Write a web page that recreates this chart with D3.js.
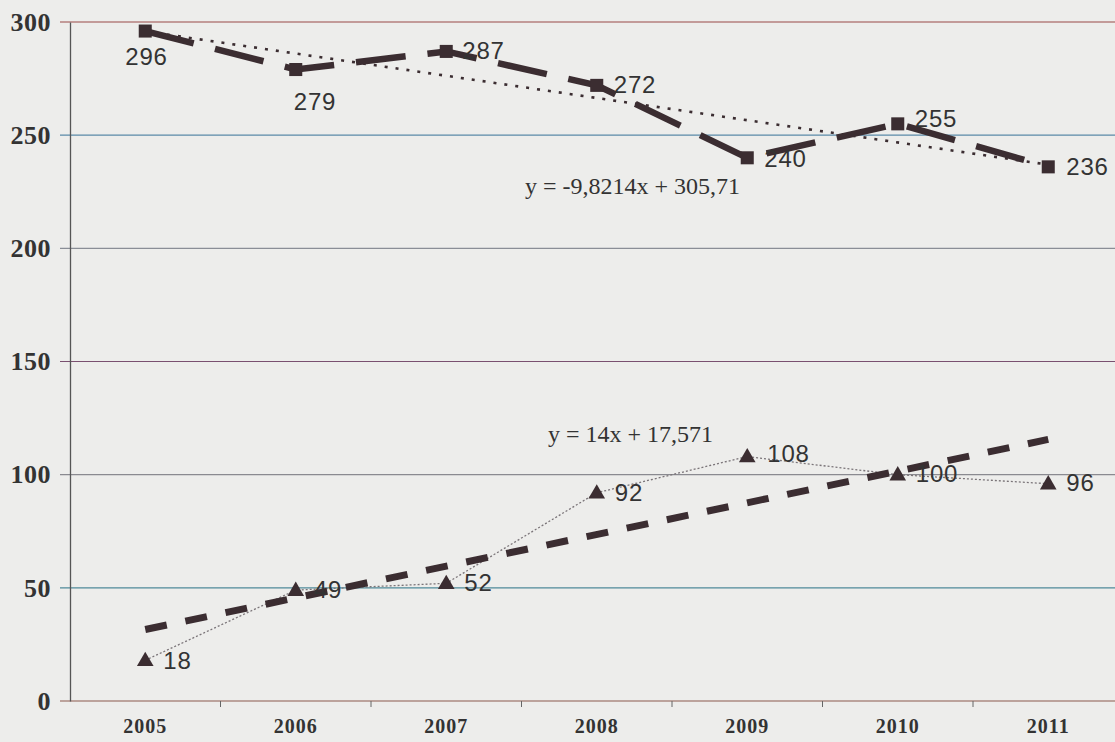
<!DOCTYPE html>
<html>
<head>
<meta charset="utf-8">
<script src="https://cdn.jsdelivr.net/npm/d3@7"></script>
<style>
  body { margin: 0; background: #ededeb; }
  svg { display: block; }
</style>
</head>
<body>
<svg id="chart" width="1115" height="742"></svg>
<script>
const margin = { top: 22, left: 70 };
const plotHeight = 679;
const bandStep = 150.5;

var years = ['2005', '2006', '2007', '2008', '2009', '2010', '2011'];
var squareValues = [296, 279, 287, 272, 240, 255, 236];
var triangleValues = [18, 49, 52, 92, 108, 100, 96];
var yTicks = [0, 50, 100, 150, 200, 250, 300];
// gridline tints from the scanned page
var gridColors = ['#8c5a4e', '#4f8a9a', '#8a8a90', '#7a5070', '#8a8e96', '#5a8aa8', '#9a4a48'];

// trendline coefficients printed on the chart
var squareTrend = { slope: -9.8214, intercept: 305.71, label: 'y = -9,8214x + 305,71' };
var triangleTrend = { slope: 14, intercept: 17.571, label: 'y = 14x + 17,571' };

// label placement: dx, dy relative to the point
var squareLabelPos = [[-20, 34], [-2, 40], [16, 8], [17, 8], [17, 9], [17, 3], [18, 8]];
var triangleLabelPos = [[18, 9], [18, 8], [18, 8], [18, 8], [20, 5], [18, 7], [18, 7]];

const svg = d3.select('#chart');
const ink = '#3b2d31';

const xScale = d3.scaleBand()
    .domain(years)
    .range([margin.left, margin.left + bandStep * years.length]);

const yScale = d3.scaleLinear()
    .domain([0, 300])
    .range([margin.top + plotHeight, margin.top]);

const cx = d => xScale(d) + xScale.bandwidth() / 2;

// gridlines
svg.append('g')
    .selectAll('line')
    .data(yTicks)
    .join('line')
    .attr('x1', margin.left - 10)
    .attr('x2', 1115)
    .attr('y1', d => yScale(d))
    .attr('y2', d => yScale(d))
    .attr('stroke', (d, i) => gridColors[i])
    .attr('stroke-width', 1.1);

// y axis
const yAxis = d3.axisLeft(yScale).tickValues(yTicks).tickSize(0).tickPadding(19);
svg.append('g')
    .attr('transform', 'translate(' + margin.left + ',0)')
    .call(yAxis)
    .call(g => g.select('.domain').attr('stroke', '#555').attr('stroke-width', 1.3))
    .call(g => g.selectAll('text')
        .attr('font-family', 'Liberation Serif, DejaVu Serif, serif')
        .attr('font-weight', 'bold')
        .attr('font-size', 26)
        .attr('letter-spacing', 0.5)
        .attr('fill', '#333'));

// x axis with ticks between categories
const xAxis = d3.axisBottom(xScale).tickSize(0).tickPadding(18);
svg.append('g')
    .attr('transform', 'translate(0,' + yScale(0) + ')')
    .call(xAxis)
    .call(g => g.select('.domain').remove())
    .call(g => g.selectAll('text')
        .attr('font-family', 'Liberation Serif, DejaVu Serif, serif')
        .attr('font-weight', 'bold')
        .attr('font-size', 20)
        .attr('letter-spacing', 1)
        .attr('fill', '#333'));

svg.append('g')
    .selectAll('line')
    .data(years.slice(1))
    .join('line')
    .attr('x1', d => xScale(d))
    .attr('x2', d => xScale(d))
    .attr('y1', yScale(0))
    .attr('y2', yScale(0) + 6)
    .attr('stroke', '#666')
    .attr('stroke-width', 1);

const line = d3.line()
    .x((d, i) => cx(years[i]))
    .y(d => yScale(d));

function trendPoints(t) {
    return years.map((y, i) => t.intercept + t.slope * (i + 1));
}

// triangle series: thin dotted line
svg.append('path')
    .datum(triangleValues)
    .attr('d', line)
    .attr('fill', 'none')
    .attr('stroke', '#7a7478')
    .attr('stroke-width', 1.3)
    .attr('stroke-dasharray', '2,2');

// triangle trendline: thick short dashes
svg.append('path')
    .datum([trendPoints(triangleTrend)[0], trendPoints(triangleTrend)[6]])
    .attr('d', d3.line()
        .x((d, i) => cx(years[i * 6]))
        .y(d => yScale(d)))
    .attr('fill', 'none')
    .attr('stroke', ink)
    .attr('stroke-width', 7)
    .attr('stroke-dasharray', '22,19');

// square trendline: dotted
svg.append('path')
    .datum([trendPoints(squareTrend)[0], trendPoints(squareTrend)[6]])
    .attr('d', d3.line()
        .x((d, i) => cx(years[i * 6]))
        .y(d => yScale(d)))
    .attr('fill', 'none')
    .attr('stroke', ink)
    .attr('stroke-width', 2.6)
    .attr('stroke-dasharray', '3,8');

// square series: thick long dashes
svg.append('path')
    .datum(squareValues)
    .attr('d', line)
    .attr('fill', 'none')
    .attr('stroke', ink)
    .attr('stroke-width', 6.5)
    .attr('stroke-dasharray', '50,22');

// markers
svg.append('g')
    .selectAll('path')
    .data(squareValues)
    .join('path')
    .attr('transform', (d, i) => 'translate(' + cx(years[i]) + ',' + yScale(d) + ')')
    .attr('d', d3.symbol().type(d3.symbolSquare).size(170))
    .attr('fill', ink);

svg.append('g')
    .selectAll('path')
    .data(triangleValues)
    .join('path')
    .attr('transform', (d, i) => 'translate(' + cx(years[i]) + ',' + (yScale(d) + 1) + ')')
    .attr('d', d3.symbol().type(d3.symbolTriangle).size(120))
    .attr('fill', ink);

// data labels
const labelFont = 'Liberation Sans, Arial, sans-serif';
svg.append('g')
    .selectAll('text')
    .data(squareValues)
    .join('text')
    .attr('x', (d, i) => cx(years[i]) + squareLabelPos[i][0])
    .attr('y', (d, i) => yScale(d) + squareLabelPos[i][1])
    .attr('font-family', labelFont)
    .attr('font-size', 24)
    .attr('letter-spacing', 0.8)
    .attr('fill', '#333')
    .text(d => d);

svg.append('g')
    .selectAll('text')
    .data(triangleValues)
    .join('text')
    .attr('x', (d, i) => cx(years[i]) + triangleLabelPos[i][0])
    .attr('y', (d, i) => yScale(d) + triangleLabelPos[i][1])
    .attr('font-family', labelFont)
    .attr('font-size', 24)
    .attr('letter-spacing', 0.8)
    .attr('fill', '#333')
    .text(d => d);

// trendline equations
svg.append('text')
    .attr('x', 525)
    .attr('y', 194)
    .attr('font-family', 'Liberation Serif, serif')
    .attr('font-size', 24)
    .attr('fill', '#333')
    .text(squareTrend.label);

svg.append('text')
    .attr('x', 548)
    .attr('y', 442)
    .attr('font-family', 'Liberation Serif, serif')
    .attr('font-size', 24)
    .attr('fill', '#333')
    .text(triangleTrend.label);
</script>
</body>
</html>
